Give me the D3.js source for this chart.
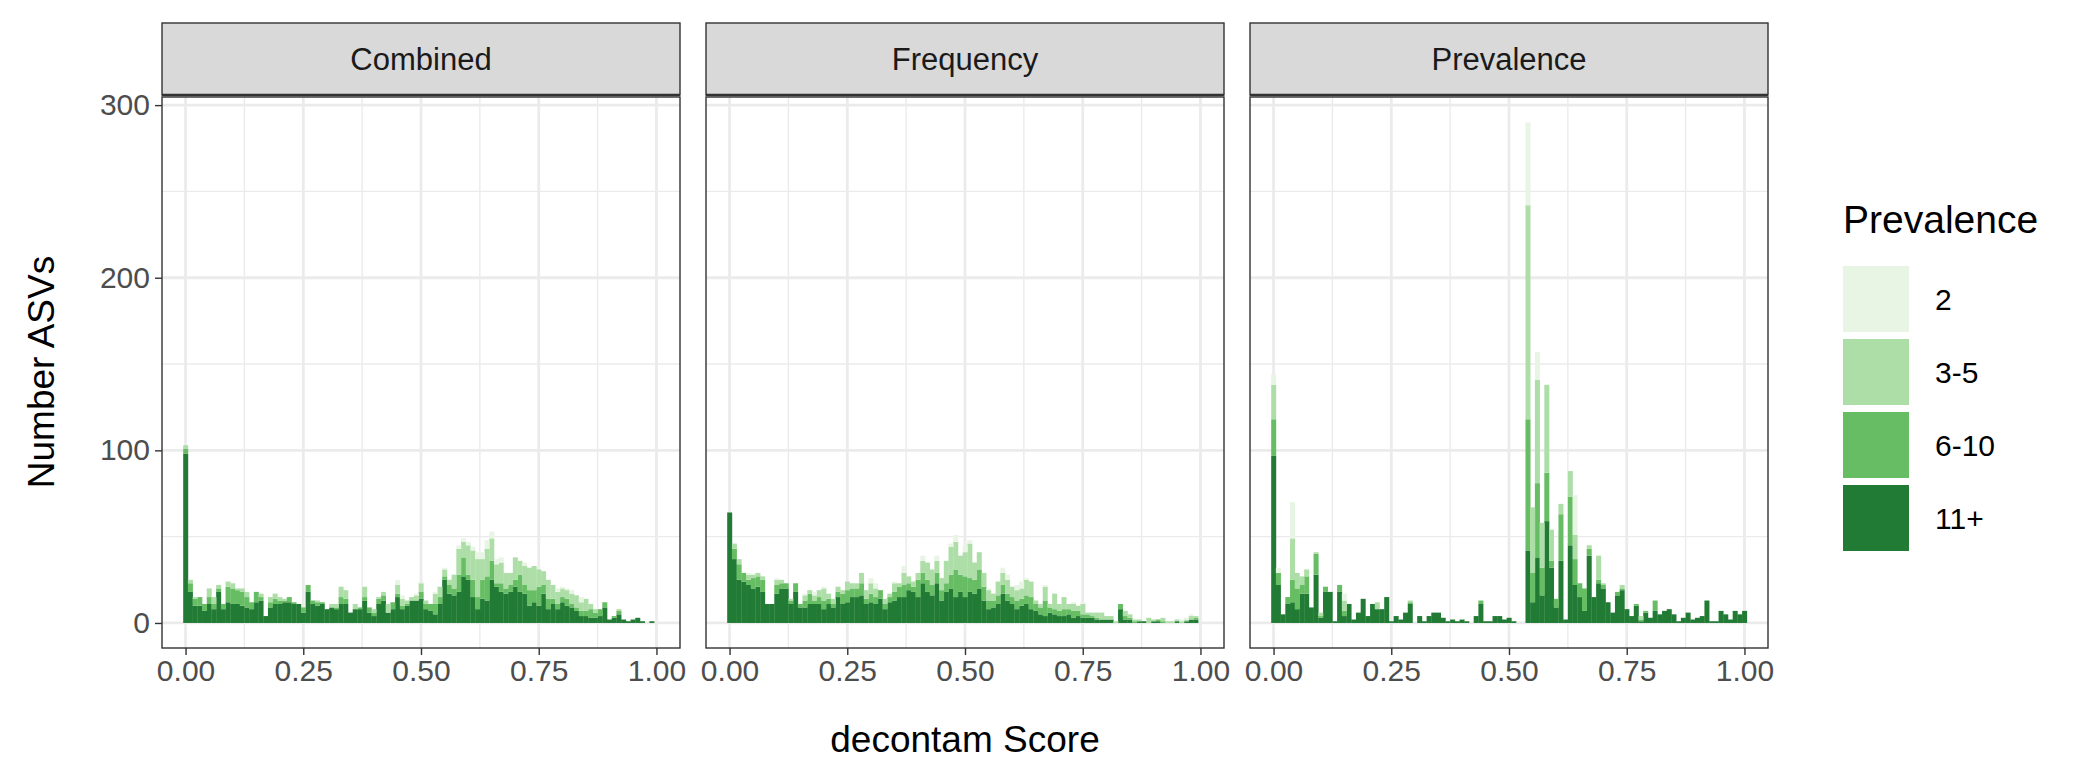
<!DOCTYPE html>
<html>
<head>
<meta charset="utf-8">
<script src="https://cdn.jsdelivr.net/npm/d3@7"></script>
<style>
  body { margin: 0; background: #fff; }
  text { font-family: "Liberation Sans", Arial, sans-serif; }
</style>
</head>
<body>
<svg id="chart" width="2100" height="780"></svg>
<script>
// counts per bin of width 0.01, each row: [11+, 6-10, 3-5, 2]
var prevalenceLevels = ["11+", "6-10", "3-5", "2"];
var legendLevels = ["2", "3-5", "6-10", "11+"];
var levelColors = {"2": "#e9f5e4", "3-5": "#aedea7", "6-10": "#66bd63", "11+": "#217b35"};
var panels = ["Combined", "Frequency", "Prevalence"];
var xTicks = [0, 0.25, 0.5, 0.75, 1];
var yTicks = [0, 100, 200, 300];

var combinedCounts = [
 [98,3,2,0],[18,5,2,0],[10,4,1,0],[10,5,0,0],[7,4,0,0],[11,4,5,0],[8,3,4,0],[18,2,2,0],[8,3,0,0],[12,9,3,0],
 [11,9,3,0],[11,8,1,0],[10,8,2,0],[9,6,3,0],[8,4,0,0],[12,6,0,0],[13,2,2,0],[4,0,0,0],[9,3,3,0],[11,3,3,0],
 [11,2,2,0],[12,1,1,0],[12,3,0,0],[11,1,0,0],[11,0,0,0],[6,3,0,0],[18,4,0,0],[11,2,0,0],[10,2,1,0],[11,1,0,0],
 [8,0,0,0],[9,0,2,0],[8,1,2,0],[11,4,6,0],[11,3,5,0],[6,0,0,0],[8,0,3,0],[8,1,0,0],[13,2,6,0],[6,3,0,0],
 [4,2,2,0],[11,3,1,0],[13,3,2,0],[6,0,5,0],[8,4,0,0],[15,2,5,3],[8,2,4,2],[10,1,2,0],[13,0,2,0],[13,0,3,1],
 [14,4,5,1],[8,3,2,0],[7,4,0,0],[5,6,6,1],[11,4,6,0],[25,2,4,1],[17,5,3,0],[16,4,8,0],[18,10,15,2],[27,11,9,2],
 [25,3,17,2],[15,10,17,2],[8,7,22,4],[14,11,12,4],[13,14,16,5],[25,11,13,4],[21,2,11,3],[18,5,12,3],[17,3,9,0],[18,4,7,0],
 [21,4,13,0],[18,10,8,0],[17,5,11,2],[10,9,13,0],[12,7,14,0],[10,11,10,0],[17,5,8,0],[8,6,11,0],[11,3,8,0],[8,3,7,2],
 [12,3,5,1],[10,4,5,1],[9,2,6,2],[7,2,7,0],[4,3,5,3],[4,3,7,0],[3,5,3,0],[3,3,2,0],[4,4,0,0],[9,3,0,0],
 [2,0,0,0],[3,1,0,0],[5,2,1,0],[2,0,0,0],[1,0,0,0],[2,0,0,0],[3,0,0,0],[1,0,0,0],[0,0,0,0],[1,0,0,0],[0,0,0,0]
];

var frequencyCounts = [
 [64,0,0,0],[37,6,3,0],[25,9,3,0],[24,5,0,0],[22,3,3,1],[20,6,2,0],[21,6,2,0],[18,7,2,0],[11,0,0,0],[11,0,0,0],
 [17,5,3,1],[20,3,2,0],[20,3,0,0],[11,2,1,0],[18,5,0,0],[9,2,0,0],[9,4,3,1],[11,6,2,0],[11,2,3,2],[11,4,4,0],
 [8,5,7,1],[11,3,3,0],[9,2,3,0],[15,3,3,0],[11,6,2,0],[12,7,5,0],[15,5,3,0],[15,5,3,0],[16,7,6,0],[11,3,5,0],
 [12,5,6,3],[11,4,5,3],[14,5,0,0],[8,3,3,0],[12,3,2,0],[13,5,5,1],[15,6,2,0],[15,7,7,4],[19,4,4,0],[18,3,3,0],
 [15,10,4,0],[23,6,7,3],[18,7,10,0],[16,6,9,0],[23,6,7,3],[13,6,7,0],[18,5,13,0],[20,8,16,2],[15,16,16,4],[18,10,11,0],
 [15,12,14,4],[18,8,20,2],[17,8,10,0],[20,11,10,0],[13,8,8,0],[8,5,6,1],[9,4,4,0],[11,5,8,0],[17,5,7,3],[13,4,8,3],
 [11,4,6,0],[8,5,6,3],[10,4,6,4],[11,5,9,1],[8,7,9,0],[7,4,2,0],[5,4,2,0],[4,9,8,1],[6,3,2,0],[5,3,9,0],
 [4,3,4,0],[4,4,7,0],[5,3,3,0],[3,4,4,1],[4,3,3,0],[3,2,6,1],[3,2,1,0],[3,1,2,0],[2,1,3,0],[2,0,4,0],
 [2,0,2,0],[2,0,2,0],[0,0,1,0],[8,3,0,0],[2,2,3,0],[2,1,2,0],[0,1,1,0],[1,0,1,0],[1,0,0,0],[0,0,3,0],
 [1,0,1,0],[1,1,0,0],[0,1,2,0],[0,0,1,0],[0,0,1,0],[1,0,1,0],[0,0,1,1],[1,0,1,1],[2,0,2,1],[2,1,1,0],[0,0,0,0]
];

var prevalenceCounts = [
 [97,21,20,6],[22,7,0,3],[5,0,0,0],[11,4,0,0],[12,13,24,21],[8,12,9,0],[17,5,5,0],[17,10,4,0],[9,0,0,0],[28,12,1,0],
 [3,1,2,0],[18,3,0,0],[18,0,0,0],[1,0,0,0],[18,4,0,0],[4,3,6,4],[11,0,0,0],[2,0,0,0],[6,0,0,0],[14,0,0,0],
 [4,0,0,0],[11,0,0,0],[8,0,4,0],[8,0,0,0],[15,0,0,0],[1,0,0,0],[4,0,0,0],[2,0,0,0],[6,0,0,0],[11,1,1,0],
 [0,0,0,0],[4,0,0,0],[1,0,0,0],[4,0,0,0],[6,0,0,0],[6,0,0,0],[3,0,0,0],[1,0,0,0],[2,0,0,0],[1,0,0,0],
 [2,0,0,0],[1,0,0,0],[0,0,0,0],[4,0,0,0],[11,2,0,0],[1,0,0,0],[1,0,0,0],[4,0,0,0],[4,0,0,0],[2,0,0,0],
 [3,0,0,0],[1,0,0,0],[0,0,0,0],[0,0,0,0],[42,76,124,48],[12,17,38,0],[38,43,60,16],[16,16,26,0],[59,28,51,0],[32,4,18,0],[9,5,0,0],
 [36,27,6,0],[2,0,0,0],[45,28,15,0],[22,15,14,23],[15,8,0,0],[7,13,0,0],[39,4,2,0],[15,0,0,0],[23,2,14,0],[20,2,1,0],
 [12,0,0,0],[6,0,0,0],[16,2,0,0],[19,1,2,0],[8,0,0,0],[4,0,0,0],[10,1,0,0],[1,1,2,0],[6,1,0,0],[3,0,0,0],
 [7,6,0,0],[5,0,0,0],[7,0,0,0],[8,0,0,0],[5,0,0,0],[1,0,0,0],[3,0,0,0],[6,0,0,0],[2,0,0,0],[3,0,0,0],
 [4,0,0,0],[13,0,0,0],[1,0,0,0],[1,0,0,0],[7,0,0,0],[5,0,0,0],[2,0,0,0],[7,0,0,0],[5,0,0,0],[7,0,0,0]
];

var panelCounts = [combinedCounts, frequencyCounts, prevalenceCounts];

var svg = d3.select("#chart");
var panelW = 518, panelGap = 26, panelLeft = 162;
var stripTop = 23, stripH = 72, plotTop = 97, plotBottom = 648;

var y = d3.scaleLinear().domain([-14.5, 304.7]).range([plotBottom, plotTop]);

function toRows(counts) {
  return counts.map(function(c, i) {
    var r = {bin: i / 100};
    prevalenceLevels.forEach(function(k, j) { r[k] = c[j]; });
    return r;
  });
}
var stack = d3.stack().keys(prevalenceLevels);

panels.forEach(function(name, p) {
  var x0 = panelLeft + p * (panelW + panelGap);
  var x = d3.scaleLinear().domain([-0.05, 1.05]).range([x0, x0 + panelW]);
  var g = svg.append("g");

  // grid
  var minorX = [0.125, 0.375, 0.625, 0.875], minorY = [50, 150, 250];
  g.selectAll(".mx").data(minorX).enter().append("line")
    .attr("x1", x).attr("x2", x).attr("y1", plotTop).attr("y2", plotBottom)
    .attr("stroke", "#ebebeb").attr("stroke-width", 1.4);
  g.selectAll(".my").data(minorY).enter().append("line")
    .attr("x1", x0).attr("x2", x0 + panelW).attr("y1", y).attr("y2", y)
    .attr("stroke", "#ebebeb").attr("stroke-width", 1.4);
  g.selectAll(".gx").data(xTicks).enter().append("line")
    .attr("x1", x).attr("x2", x).attr("y1", plotTop).attr("y2", plotBottom)
    .attr("stroke", "#ebebeb").attr("stroke-width", 2.8);
  g.selectAll(".gy").data(yTicks).enter().append("line")
    .attr("x1", x0).attr("x2", x0 + panelW).attr("y1", y).attr("y2", y)
    .attr("stroke", "#ebebeb").attr("stroke-width", 2.8);

  // bars
  var series = stack(toRows(panelCounts[p]));
  var bw = x(0.01) - x(0);
  g.selectAll(".s").data(series).enter().append("g")
    .attr("fill", function(d) { return levelColors[d.key]; })
    .selectAll("rect").data(function(d) { return d; }).enter().append("rect")
    .attr("x", function(d) { return x(d.data.bin) - bw / 2; })
    .attr("width", bw + 0.3)
    .attr("y", function(d) { return y(d[1]); })
    .attr("height", function(d) { return Math.max(0, y(d[0]) - y(d[1])); });

  // border
  g.append("rect").attr("x", x0).attr("y", plotTop).attr("width", panelW).attr("height", plotBottom - plotTop)
    .attr("fill", "none").attr("stroke", "#333").attr("stroke-width", 1.4);
  // strip
  g.append("rect").attr("x", x0).attr("y", stripTop).attr("width", panelW).attr("height", stripH)
    .attr("fill", "#d9d9d9").attr("stroke", "#333").attr("stroke-width", 1.4);
  g.append("line").attr("x1", x0).attr("x2", x0 + panelW).attr("y1", stripTop + stripH).attr("y2", stripTop + stripH)
    .attr("stroke", "#333").attr("stroke-width", 2.5);
  g.append("text").attr("x", x0 + panelW / 2).attr("y", stripTop + stripH / 2 + 11)
    .attr("text-anchor", "middle").attr("font-size", 31).attr("fill", "#1a1a1a").text(name);

  // x axis
  var xa = g.append("g").attr("transform", "translate(0," + plotBottom + ")")
    .call(d3.axisBottom(x).tickValues(xTicks).tickFormat(d3.format(".2f")).tickSize(7).tickPadding(5));
  xa.select(".domain").remove();
  xa.selectAll("line").attr("stroke", "#333").attr("stroke-width", 1.4);
  xa.selectAll("text").attr("font-size", 30).attr("fill", "#4d4d4d");

  if (p === 0) {
    var ya = g.append("g").attr("transform", "translate(" + x0 + ",0)")
      .call(d3.axisLeft(y).tickValues(yTicks).tickSize(7).tickPadding(5));
    ya.select(".domain").remove();
    ya.selectAll("line").attr("stroke", "#333").attr("stroke-width", 1.4);
    ya.selectAll("text").attr("font-size", 30).attr("fill", "#4d4d4d");
  }
});

svg.append("text").attr("x", 965).attr("y", 752).attr("text-anchor", "middle")
  .attr("font-size", 37).attr("fill", "#000").text("decontam Score");
svg.append("text").attr("transform", "translate(54,372) rotate(-90)").attr("text-anchor", "middle")
  .attr("font-size", 37).attr("fill", "#000").text("Number ASVs");

// legend
var lg = svg.append("g").attr("transform", "translate(1843,0)");
lg.append("text").attr("x", 0).attr("y", 233).attr("font-size", 39).attr("fill", "#000").text("Prevalence");
lg.selectAll(".k").data(legendLevels).enter().append("rect")
  .attr("x", 0).attr("y", function(d, i) { return 266 + i * 73; })
  .attr("width", 66).attr("height", 66)
  .attr("fill", function(d) { return levelColors[d]; });
lg.selectAll(".l").data(legendLevels).enter().append("text")
  .attr("x", 92).attr("y", function(d, i) { return 310 + i * 73; })
  .attr("font-size", 30).attr("fill", "#000").text(function(d) { return d; });
</script>
</body>
</html>
